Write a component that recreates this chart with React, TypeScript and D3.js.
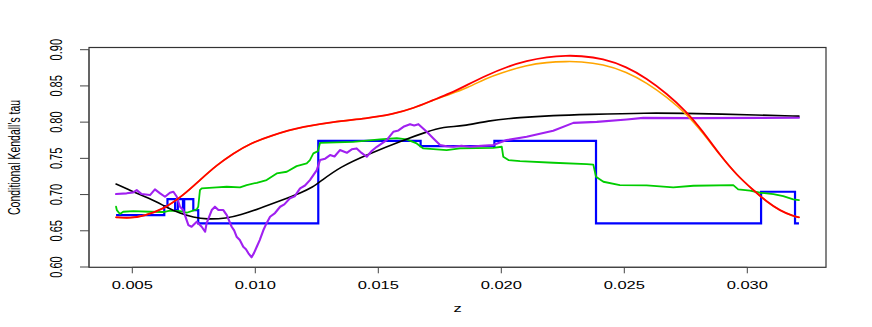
import React from 'react';
import * as d3 from 'd3';

// z positions and conditional Kendall's tau values
const redCurve: [number, number][] = [
  [0.00434, 0.6686], [0.00491, 0.6674], [0.00545, 0.6703], [0.00626, 0.6796],
  [0.00707, 0.6989], [0.00775, 0.72], [0.00843, 0.7407], [0.00911, 0.7568],
  [0.00978, 0.7706], [0.01072, 0.7821], [0.01141, 0.789], [0.01182, 0.7927],
  [0.01316, 0.8004], [0.01453, 0.8051], [0.0156, 0.811], [0.01641, 0.8189],
  [0.01722, 0.8303], [0.01792, 0.8396], [0.01859, 0.851], [0.01941, 0.8648],
  [0.02022, 0.8763], [0.02103, 0.8846], [0.02185, 0.8898], [0.02266, 0.892],
  [0.0232, 0.8915], [0.02413, 0.8879], [0.0251, 0.8763], [0.02591, 0.8603],
  [0.02672, 0.8396], [0.02754, 0.8142], [0.02821, 0.7866], [0.02889, 0.7545],
  [0.02957, 0.7269], [0.03024, 0.7062], [0.03079, 0.6901], [0.03133, 0.6777],
  [0.03187, 0.6703], [0.0321, 0.6686],
];

const orangeCurve: [number, number][] = [
  [0.00434, 0.6686], [0.00491, 0.6674], [0.00545, 0.6703], [0.00626, 0.6796],
  [0.00707, 0.6989], [0.00775, 0.72], [0.00843, 0.7407], [0.00911, 0.7568],
  [0.00978, 0.7706], [0.01072, 0.7821], [0.01141, 0.789], [0.01182, 0.7927],
  [0.01316, 0.8004], [0.01453, 0.8051], [0.0156, 0.811], [0.01641, 0.8189],
  [0.01722, 0.8303], [0.01792, 0.8386], [0.01859, 0.8469], [0.01941, 0.8607],
  [0.01995, 0.8676], [0.02103, 0.8786], [0.02185, 0.8826], [0.02266, 0.8838],
  [0.0232, 0.8836], [0.02413, 0.88], [0.0251, 0.8694], [0.02591, 0.8542],
  [0.02672, 0.8349], [0.02754, 0.811], [0.02821, 0.7844], [0.02889, 0.7545],
  [0.02957, 0.7269], [0.03024, 0.7062], [0.03079, 0.6901], [0.03133, 0.6777],
  [0.03187, 0.6703], [0.0321, 0.6686],
];

const blackCurve: [number, number][] = [
  [0.00434, 0.7145], [0.00504, 0.7039], [0.00545, 0.6979], [0.00599, 0.6901],
  [0.0064, 0.6823], [0.00694, 0.6741], [0.00748, 0.6686], [0.00802, 0.6658],
  [0.00884, 0.6672], [0.00938, 0.6717], [0.01019, 0.681], [0.01101, 0.6914],
  [0.01182, 0.7017], [0.01236, 0.7108], [0.01263, 0.7177], [0.01344, 0.7383],
  [0.01466, 0.7568], [0.01602, 0.7752], [0.01697, 0.7866], [0.01764, 0.7935],
  [0.01846, 0.7945], [0.01941, 0.8018], [0.02076, 0.8065], [0.02211, 0.8092],
  [0.02347, 0.8106], [0.02591, 0.8128], [0.02781, 0.812], [0.03052, 0.8097],
  [0.0321, 0.8083],
];

const purpleCurve: [number, number][] = [
  [0.00434, 0.7007], [0.00477, 0.7017], [0.00504, 0.703], [0.00518, 0.7062],
  [0.00538, 0.7007], [0.00572, 0.6993], [0.00592, 0.7072], [0.00613, 0.7017],
  [0.00633, 0.697], [0.00653, 0.7025], [0.00667, 0.7039], [0.00681, 0.697],
  [0.00694, 0.6832], [0.00707, 0.6786], [0.00728, 0.6579], [0.00741, 0.6556],
  [0.00762, 0.6625], [0.00782, 0.6556], [0.00796, 0.6487], [0.00802, 0.6603],
  [0.00823, 0.6786], [0.00836, 0.6832], [0.0085, 0.6786], [0.0087, 0.6786],
  [0.00884, 0.6717], [0.00904, 0.6556], [0.00914, 0.6505], [0.00924, 0.6418],
  [0.00937, 0.6372], [0.00951, 0.628], [0.00962, 0.6245], [0.00972, 0.6189],
  [0.00985, 0.6134], [0.00995, 0.6195], [0.01006, 0.628], [0.01018, 0.6372],
  [0.01033, 0.651], [0.01046, 0.6605], [0.0106, 0.6694], [0.0108, 0.6745],
  [0.01101, 0.6832], [0.01118, 0.6865], [0.01141, 0.6948], [0.0116, 0.6975],
  [0.01182, 0.7086], [0.01202, 0.7125], [0.01222, 0.72], [0.0125, 0.7338],
  [0.01263, 0.7476], [0.01284, 0.7495], [0.01304, 0.7545], [0.01322, 0.7525],
  [0.01344, 0.7614], [0.01372, 0.7577], [0.01392, 0.7625], [0.01412, 0.7637],
  [0.01432, 0.7575], [0.01453, 0.7522], [0.01474, 0.7605], [0.01494, 0.766],
  [0.01534, 0.7752], [0.01561, 0.7866], [0.01582, 0.7885], [0.01602, 0.7935],
  [0.01629, 0.7972], [0.01646, 0.7955], [0.01663, 0.7972], [0.01697, 0.7866],
  [0.01724, 0.7775], [0.01751, 0.7683], [0.01778, 0.7668], [0.01805, 0.766],
  [0.01838, 0.7675], [0.01873, 0.766], [0.01918, 0.7672], [0.01967, 0.7683],
  [0.02022, 0.7752], [0.02103, 0.7797], [0.02211, 0.788], [0.02293, 0.799],
  [0.02388, 0.8004], [0.0251, 0.8037], [0.02577, 0.8059], [0.02781, 0.8055],
  [0.0321, 0.806],
];

const greenCurve: [number, number][] = [
  [0.00434, 0.6832], [0.00437, 0.6786], [0.0045, 0.6731], [0.00463, 0.6763],
  [0.00504, 0.6772], [0.00572, 0.6763], [0.00626, 0.6759], [0.00653, 0.6777],
  [0.00694, 0.6772], [0.00721, 0.6749], [0.00762, 0.6796], [0.00768, 0.6832],
  [0.00775, 0.7062], [0.00782, 0.7086], [0.00843, 0.7099], [0.00884, 0.7108],
  [0.00938, 0.7099], [0.00965, 0.7131], [0.01006, 0.7163], [0.01046, 0.72],
  [0.01087, 0.7292], [0.01128, 0.7315], [0.01168, 0.7393], [0.01209, 0.743],
  [0.01222, 0.7476], [0.01236, 0.7568], [0.01255, 0.76], [0.01263, 0.7714],
  [0.01398, 0.7728], [0.01507, 0.7761], [0.01575, 0.7779], [0.01615, 0.7761],
  [0.01656, 0.7706], [0.01683, 0.7637], [0.01778, 0.7614], [0.01832, 0.7637],
  [0.01967, 0.7646], [0.02002, 0.766], [0.02008, 0.7522], [0.02029, 0.7476],
  [0.02076, 0.7462], [0.02211, 0.7439], [0.02347, 0.7421], [0.02374, 0.7414],
  [0.02385, 0.7246], [0.02415, 0.7177], [0.02482, 0.7131], [0.02591, 0.7127],
  [0.02699, 0.7099], [0.02781, 0.7122], [0.02943, 0.7131], [0.02963, 0.7072],
  [0.03011, 0.7053], [0.03052, 0.7025], [0.03106, 0.7007], [0.03146, 0.6979],
  [0.03187, 0.6934], [0.0321, 0.6924],
];

// step function: value holds from this z until the next one
const blueSteps: [number, number][] = [
  [0.00434, 0.6717], [0.0063, 0.684], [0.00643, 0.6938], [0.00674, 0.6786],
  [0.00685, 0.6938], [0.00706, 0.6786], [0.00711, 0.6938], [0.00748, 0.6786],
  [0.00768, 0.6603], [0.01256, 0.7742], [0.01672, 0.7669], [0.01972, 0.7742],
  [0.02385, 0.6603], [0.03056, 0.7039], [0.03194, 0.6603], [0.0321, 0.6603],
];

const xTicks = [0.005, 0.01, 0.015, 0.02, 0.025, 0.03];
const xTickLabels = ['0.005', '0.010', '0.015', '0.020', '0.025', '0.030'];
const yTicks = [0.6, 0.65, 0.7, 0.75, 0.8, 0.85, 0.9];
const yTickLabels = ['0.60', '0.65', '0.70', '0.75', '0.80', '0.85', '0.90'];

const width = 872;
const height = 327;
const box = { left: 89, right: 826, top: 47.5, bottom: 267.3 };
const font = 'Liberation Sans, Arial, Helvetica, sans-serif';
const stretch = 1.5;

export default function App() {
  const x = d3.scaleLinear().domain([0.005, 0.03]).range([132.3, 747.3]);
  const y = d3.scaleLinear().domain([0.6, 0.9]).range([267, 49.7]);

  // the smooth fits are drawn as B-splines so reading noise does not show as kinks
  const smooth = d3.line<[number, number]>()
    .x(d => x(d[0])).y(d => y(d[1])).curve(d3.curveBasis);
  const plain = d3.line<[number, number]>()
    .x(d => x(d[0])).y(d => y(d[1]));
  const steps = d3.line<[number, number]>()
    .x(d => x(d[0])).y(d => y(d[1])).curve(d3.curveStepAfter);

  return (
    <svg width={width} height={height}
      style={{ position: 'absolute', left: 0, top: 0, background: '#fff' }}>
      <g fill="none" strokeLinejoin="round" strokeLinecap="round">
        <path d={steps(blueSteps) ?? ''} stroke="#0000ff" strokeWidth={2.2} strokeLinecap="butt" strokeLinejoin="miter" />
        <path d={plain(greenCurve) ?? ''} stroke="#00cd00" strokeWidth={1.8} />
        <path d={smooth(blackCurve) ?? ''} stroke="#000" strokeWidth={1.6} />
        <path d={plain(purpleCurve) ?? ''} stroke="#a020f0" strokeWidth={2.1} />
        <path d={smooth(orangeCurve) ?? ''} stroke="#ffa500" strokeWidth={1.6} />
        <path d={smooth(redCurve) ?? ''} stroke="#ff0000" strokeWidth={1.8} />
      </g>

      <rect x={box.left} y={box.top} width={box.right - box.left} height={box.bottom - box.top}
        fill="none" stroke="#333" strokeWidth={1.2} />

      {/* x axis */}
      <g stroke="#444" strokeWidth={1}>
        <line x1={x(xTicks[0])} x2={x(xTicks[xTicks.length - 1])} y1={box.bottom} y2={box.bottom} />
        {xTicks.map(t => (
          <line key={t} x1={x(t)} x2={x(t)} y1={box.bottom} y2={box.bottom + 6} />
        ))}
      </g>
      {xTicks.map((t, i) => (
        <text key={t} transform={`translate(${x(t)},289) scale(${stretch},1)`}
          textAnchor="middle" fontFamily={font} fontSize={11} fill="#000">
          {xTickLabels[i]}
        </text>
      ))}
      <text transform={`translate(${(box.left + box.right) / 2},312) scale(${stretch},1)`}
        textAnchor="middle" fontFamily={font} fontSize={11} fill="#000">z</text>

      {/* y axis */}
      <g stroke="#444" strokeWidth={1}>
        <line x1={box.left} x2={box.left} y1={y(yTicks[0])} y2={y(yTicks[yTicks.length - 1])} />
        {yTicks.map(t => (
          <line key={t} x1={box.left - 9} x2={box.left} y1={y(t)} y2={y(t)} />
        ))}
      </g>
      {yTicks.map((t, i) => (
        <text key={t} transform={`translate(62,${y(t)}) scale(${stretch},1) rotate(-90)`}
          textAnchor="middle" fontFamily={font} fontSize={11} fill="#000">
          {yTickLabels[i]}
        </text>
      ))}
      <text transform={`translate(20,${(box.top + box.bottom) / 2}) scale(${stretch},1) rotate(-90)`}
        textAnchor="middle" fontFamily={font} fontSize={10.5} fill="#000">
        Conditional Kendall's tau
      </text>
    </svg>
  );
}
